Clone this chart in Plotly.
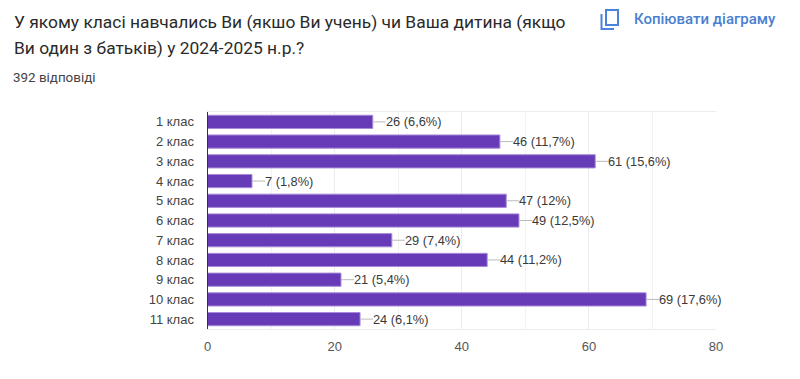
import plotly.graph_objects as go

W, H = 792, 371
OFF = 8
categories = ["1 клас", "2 клас", "3 клас", "4 клас", "5 клас", "6 клас",
              "7 клас", "8 клас", "9 клас", "10 клас", "11 клас"]
counts = [26, 46, 61, 7, 47, 49, 29, 44, 21, 69, 24]
percents = ["6,6%", "11,7%", "15,6%", "1,8%", "12%", "12,5%",
            "7,4%", "11,2%", "5,4%", "17,6%", "6,1%"]
title_lines = ["У якому класі навчались Ви (якшо Ви учень) чи Ваша дитина (якщо",
               "Ви один з батьків) у 2024-2025 н.р.?"]
subtitle = "392 відповіді"
copy_label = "Копіювати діаграму"

PURPLE = "#673ab7"
LEFT, RIGHT, TOP, BOTTOM = 207.5, 716, 112, 329


def px(v):
    return (v - OFF) / W


def py(v):
    return 1 - (v - OFF) / H


fig = go.Figure(go.Bar(
    x=counts, y=categories, orientation="h",
    marker=dict(color=PURPLE, line=dict(color="#a88bd8", width=1)),
    error_x=dict(type="constant", value=2.05, valueminus=0, symmetric=False, color="#bbbbbb",
                 thickness=1, width=0),
    hoverinfo="skip", showlegend=False,
))

ann = []
for c, n, p in zip(categories, counts, percents):
    ann.append(dict(x=n, y=c, xref="x", yref="y", text=f"{n} ({p})", showarrow=False,
                    xanchor="left", xshift=11, yshift=0,
                    font=dict(family="Liberation Sans", size=12.8, color="#3a3a3a")))

for line, base_y in zip(title_lines, [22.5, 48]):
    ann.append(dict(x=px(12), y=py(base_y), xref="paper", yref="paper", text=line, showarrow=False,
                    xanchor="left", yanchor="middle",
                    font=dict(family="Roboto", size=17.4, color="#2a2a2a")))
ann.append(dict(x=px(11), y=py(77), xref="paper", yref="paper", text=subtitle, showarrow=False,
                xanchor="left", yanchor="middle",
                font=dict(family="Roboto", size=13.4, color="#444444")))
ann.append(dict(x=px(632), y=py(19), xref="paper", yref="paper", text=copy_label, showarrow=False,
                xanchor="left", yanchor="middle",
                font=dict(family="Roboto", size=15, weight=500, color="#4a7fd0")))

shapes = [
    dict(type="rect", xref="paper", yref="paper", x0=px(606), x1=px(618), y0=py(10), y1=py(25),
         line=dict(color="#4a82dc", width=2), fillcolor="rgba(0,0,0,0)"),
    dict(type="path", xref="paper", yref="paper",
         path=f"M {px(601.5)} {py(14)} L {px(601.5)} {py(29)} L {px(614)} {py(29)}",
         line=dict(color="#4a82dc", width=2)),
]

fig.update_layout(
    width=W, height=H, paper_bgcolor="white", plot_bgcolor="white",
    margin=dict(l=0, r=0, t=0, b=0), bargap=0.33,
    annotations=ann, shapes=shapes,
    font=dict(family="Liberation Sans", size=13, color="#444444"),
    xaxis=dict(domain=[px(LEFT), px(RIGHT)], range=[0, 80], tickmode="array", automargin=False,
               tickvals=[0, 20, 40, 60, 80], showgrid=True, gridcolor="#ececec", gridwidth=1,
               minor=dict(dtick=10, tick0=0, showgrid=True, gridcolor="#f2f2f2", gridwidth=1),
               zeroline=False, showline=True, linecolor="#ececec", linewidth=1, mirror=True,
               ticks="", ticklabelstandoff=5,
               tickfont=dict(family="Liberation Sans", size=13, color="#555555")),
    yaxis=dict(domain=[py(BOTTOM), py(TOP)], autorange="reversed", showgrid=False, automargin=False,
               showline=True, linecolor="#333333", linewidth=1, ticks="", ticklabelstandoff=10,
               tickfont=dict(family="Liberation Sans", size=13, color="#444444")),
)

fig.write_html("out.html", config=dict(displayModeBar=False))
